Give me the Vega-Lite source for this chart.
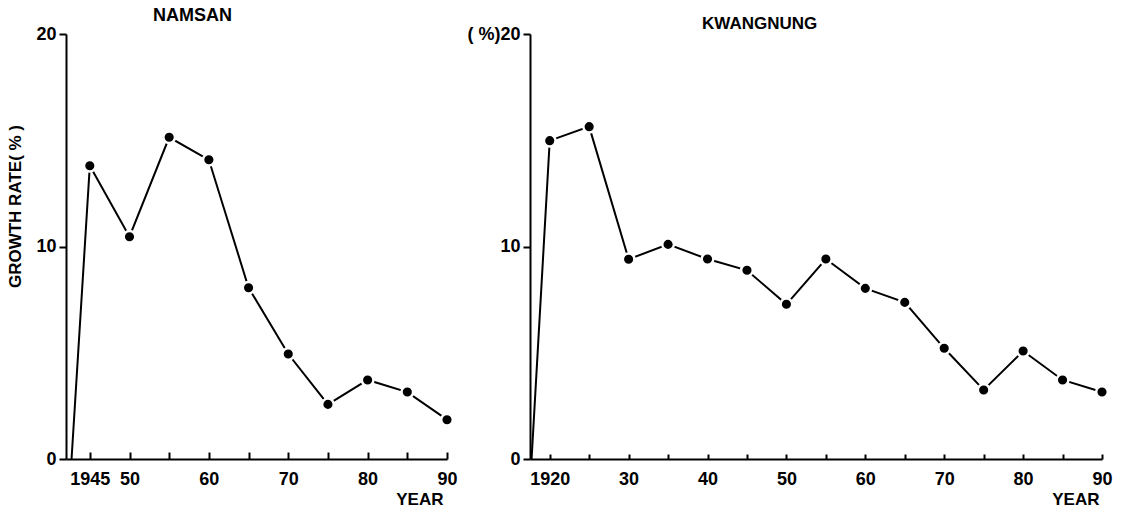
{
  "$schema": "https://vega.github.io/schema/vega-lite/v6.json",
  "autosize": {"type": "none"},
  "padding": {"left": 66, "top": 34, "right": 1060, "bottom": 477},
  "background": "white",
  "config": {
    "font": "Liberation Sans",
    "view": {"stroke": null},
    "axis": {
      "grid": false,
      "domainColor": "black",
      "domainWidth": 2,
      "tickColor": "black",
      "tickWidth": 2,
      "ticks": true,
      "labelColor": "black",
      "labelFont": "Liberation Sans",
      "labelFontWeight": "bold",
      "labelFontSize": 18,
      "titleColor": "black",
      "titleFont": "Liberation Sans",
      "titleFontWeight": "bold",
      "titleFontSize": 17
    },
    "title": {"font": "Liberation Sans", "fontWeight": "bold", "color": "black", "anchor": "start", "frame": "group", "baseline": "alphabetic", "offset": 0}
  },
  "data": {
    "values": [
      {"site": "NAMSAN", "year": 1942.7, "rate": 0},
      {"site": "NAMSAN", "year": 1945, "rate": 13.8},
      {"site": "NAMSAN", "year": 1950, "rate": 10.46},
      {"site": "NAMSAN", "year": 1955, "rate": 15.14},
      {"site": "NAMSAN", "year": 1960, "rate": 14.08},
      {"site": "NAMSAN", "year": 1965, "rate": 8.06},
      {"site": "NAMSAN", "year": 1970, "rate": 4.94},
      {"site": "NAMSAN", "year": 1975, "rate": 2.57},
      {"site": "NAMSAN", "year": 1980, "rate": 3.72},
      {"site": "NAMSAN", "year": 1985, "rate": 3.15},
      {"site": "NAMSAN", "year": 1990, "rate": 1.85},
      {"site": "KWANGNUNG", "year": 1917.7, "rate": 0},
      {"site": "KWANGNUNG", "year": 1920, "rate": 14.98},
      {"site": "KWANGNUNG", "year": 1925, "rate": 15.64},
      {"site": "KWANGNUNG", "year": 1930, "rate": 9.4},
      {"site": "KWANGNUNG", "year": 1935, "rate": 10.1},
      {"site": "KWANGNUNG", "year": 1940, "rate": 9.41},
      {"site": "KWANGNUNG", "year": 1945, "rate": 8.88},
      {"site": "KWANGNUNG", "year": 1950, "rate": 7.28},
      {"site": "KWANGNUNG", "year": 1955, "rate": 9.41},
      {"site": "KWANGNUNG", "year": 1960, "rate": 8.03},
      {"site": "KWANGNUNG", "year": 1965, "rate": 7.37},
      {"site": "KWANGNUNG", "year": 1970, "rate": 5.21},
      {"site": "KWANGNUNG", "year": 1975, "rate": 3.25},
      {"site": "KWANGNUNG", "year": 1980, "rate": 5.08},
      {"site": "KWANGNUNG", "year": 1985, "rate": 3.72},
      {"site": "KWANGNUNG", "year": 1990, "rate": 3.15}
    ]
  },
  "spacing": 83,
  "bounds": "flush",
  "hconcat": [
    {
      "width": 381,
      "height": 425,
      "title": {"text": "NAMSAN", "fontSize": 18, "dx": 87, "dy": 4},
      "transform": [{"filter": "datum.site == 'NAMSAN'"}],
      "encoding": {
        "x": {
          "field": "year", "type": "quantitative",
          "scale": {"domain": [1942, 1990], "nice": false, "zero": false},
          "axis": {
            "values": [1945, 1950, 1955, 1960, 1965, 1970, 1975, 1980, 1985, 1990],
            "labelExpr": "datum.value == 1945 ? '1945' : (datum.value % 10 == 0 ? substring(toString(datum.value), 2) : '')",
            "ticks": true,
            "tickSize": -7,
            "tickColor": "black",
            "labelPadding": 18,
            "labelFlush": false,
            "title": "YEAR",
            "titleAnchor": "end",
            "titleAlign": "right",
            "titleX": 377,
            "titleY": 40,
            "titleBaseline": "middle"
          }
        },
        "y": {
          "field": "rate", "type": "quantitative",
          "scale": {"domain": [0, 20], "nice": false},
          "axis": {
            "values": [0, 10, 20],
            "tickSize": 7,
            "labelPadding": 3,
            "labelFlush": false,
            "title": "GROWTH RATE( % )",
            "titleAngle": -90,
            "titleX": -51,
            "titleY": 172,
            "titleAlign": "center",
            "titleBaseline": "middle"
          }
        }
      },
      "layer": [
        {"mark": {"type": "line", "color": "black", "strokeWidth": 2}},
        {
          "transform": [{"filter": "datum.rate > 0"}],
          "mark": {"type": "point", "filled": true, "fill": "black", "stroke": "white", "strokeWidth": 2.5, "size": 135, "opacity": 1}
        }
      ]
    },
    {
      "width": 572,
      "height": 425,
      "title": {"text": "KWANGNUNG", "fontSize": 17, "dx": 172, "dy": 12},
      "transform": [{"filter": "datum.site == 'KWANGNUNG'"}],
      "encoding": {
        "x": {
          "field": "year", "type": "quantitative",
          "scale": {"domain": [1917.5, 1990], "nice": false, "zero": false},
          "axis": {
            "values": [1920, 1925, 1930, 1935, 1940, 1945, 1950, 1955, 1960, 1965, 1970, 1975, 1980, 1985, 1990],
            "labelExpr": "datum.value == 1920 ? '1920' : (datum.value % 10 == 0 ? substring(toString(datum.value), 2) : '')",
            "ticks": true,
            "tickSize": -5,
            "tickColor": "black",
            "labelPadding": 16,
            "labelFlush": false,
            "title": "YEAR",
            "titleAnchor": "end",
            "titleAlign": "right",
            "titleX": 569,
            "titleY": 40,
            "titleBaseline": "middle"
          }
        },
        "y": {
          "field": "rate", "type": "quantitative",
          "scale": {"domain": [0, 20], "nice": false},
          "axis": {
            "values": [0, 10, 20],
            "labelExpr": "datum.value == 20 ? '( %)20' : datum.label",
            "tickSize": 7,
            "labelPadding": 3,
            "labelFlush": false,
            "title": null
          }
        }
      },
      "layer": [
        {"mark": {"type": "line", "color": "black", "strokeWidth": 2}},
        {
          "transform": [{"filter": "datum.rate > 0"}],
          "mark": {"type": "point", "filled": true, "fill": "black", "stroke": "white", "strokeWidth": 2.5, "size": 135, "opacity": 1}
        }
      ]
    }
  ]
}
